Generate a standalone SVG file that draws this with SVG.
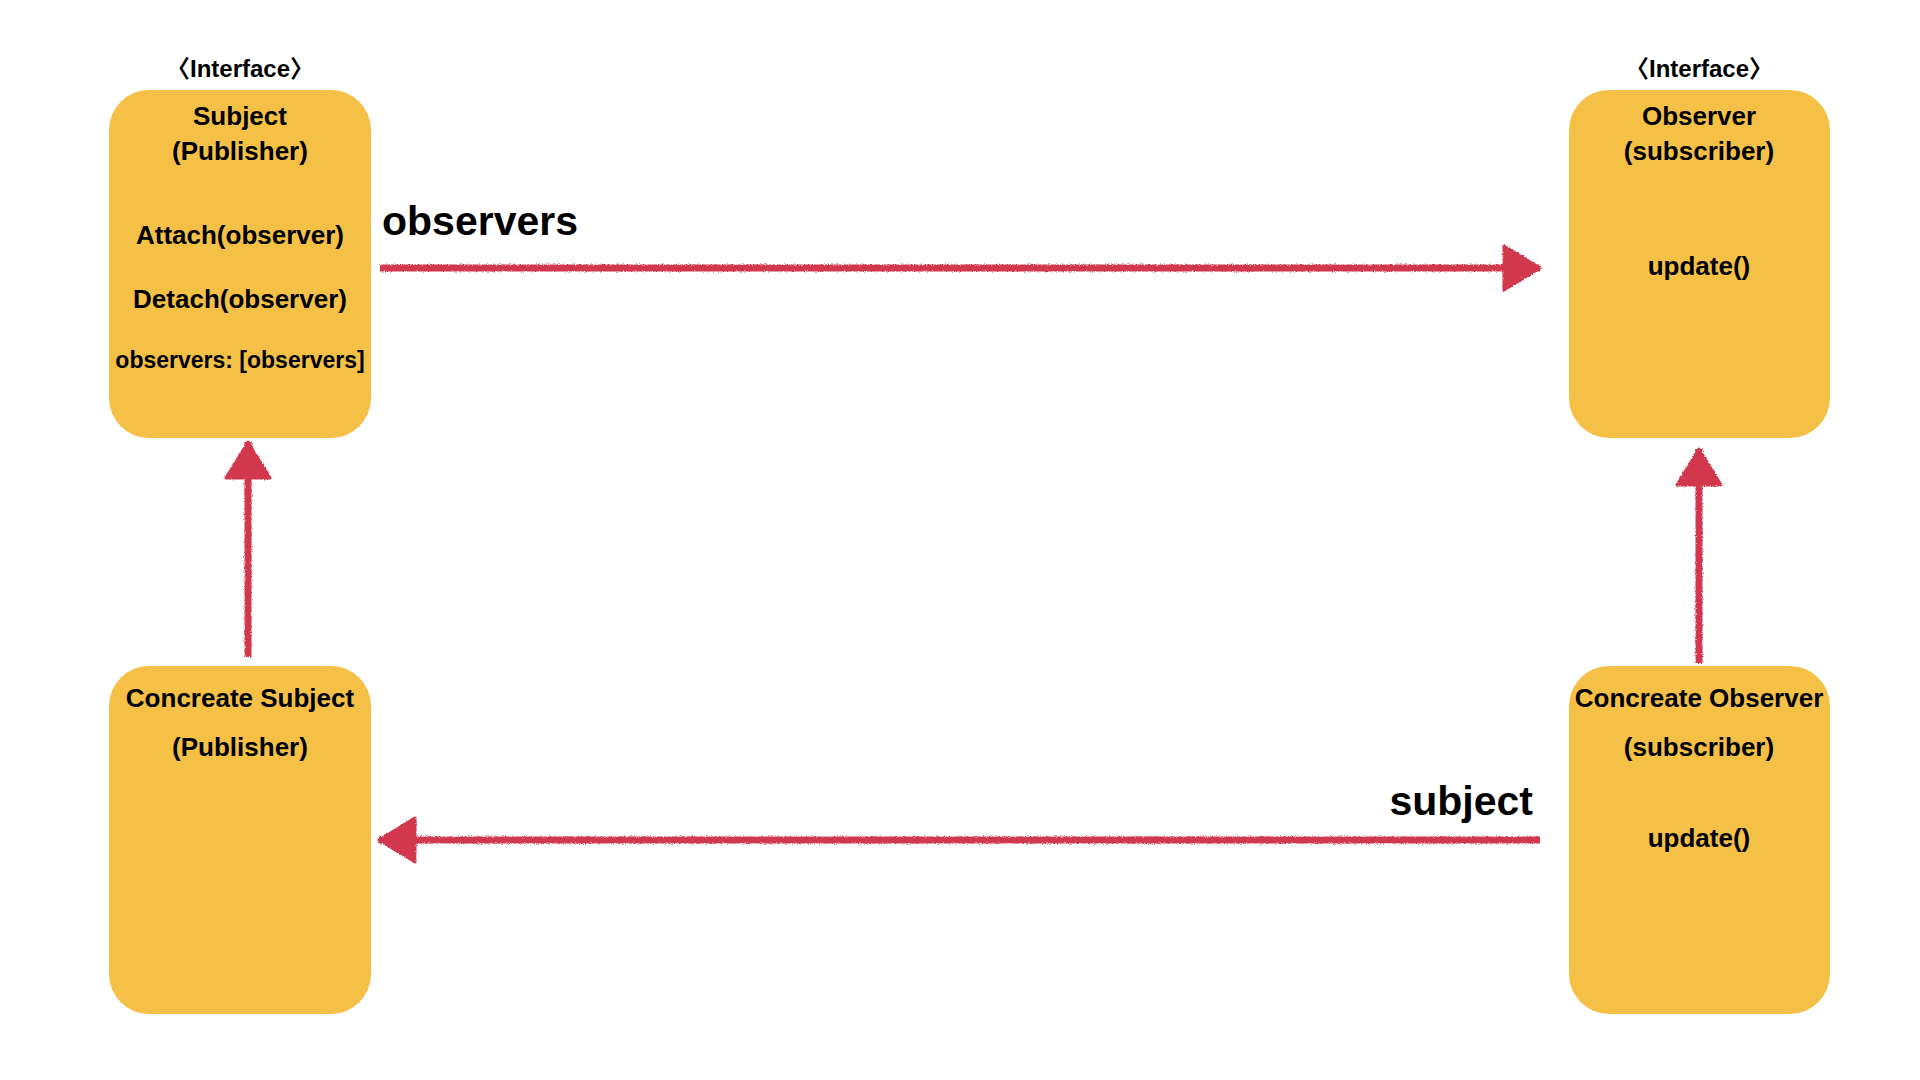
<svg xmlns="http://www.w3.org/2000/svg" width="1920" height="1080" viewBox="0 0 1920 1080">
  <style>
    .box { fill: #F4C046; }
    .t { font-family: "Liberation Sans", "Noto Sans CJK KR", Arial, sans-serif; font-weight: bold; fill: #000; text-anchor: middle; }
    .lbl { font-family: "Liberation Sans", Arial, sans-serif; font-weight: bold; fill: #000; font-size: 41px; }
    .conn { fill: none; stroke: #D1384D; stroke-width: 7; stroke-linecap: butt; }
  </style>
  <defs>
    <filter id="crayon" x="-5%" y="-50%" width="110%" height="200%">
      <feTurbulence type="fractalNoise" baseFrequency="0.9" numOctaves="2" seed="3" result="noise"/>
      <feDisplacementMap in="SourceGraphic" in2="noise" scale="3" xChannelSelector="R" yChannelSelector="G"/>
    </filter>
    <marker id="head" markerUnits="userSpaceOnUse" viewBox="0 0 40 48" markerWidth="40" markerHeight="48" refX="38" refY="24" orient="auto">
      <path d="M2,2 L38,24 L2,46 Z" fill="#D1384D" stroke="#D1384D" stroke-width="3" stroke-linejoin="round"/>
    </marker>
  </defs>
  <rect width="1920" height="1080" fill="#FFFFFF"/>

  <g id="subject">
    <text class="t" x="240" y="77" font-size="24">〈Interface〉</text>
    <rect class="box" x="109" y="90" width="262" height="348" rx="40"/>
    <text class="t" x="240" y="125" font-size="26">Subject</text>
    <text class="t" x="240" y="160" font-size="26">(Publisher)</text>
    <text class="t" x="240" y="244" font-size="26">Attach(observer)</text>
    <text class="t" x="240" y="308" font-size="26">Detach(observer)</text>
    <text class="t" x="240" y="368" font-size="23">observers: [observers]</text>
  </g>

  <g id="observer">
    <text class="t" x="1699" y="77" font-size="24">〈Interface〉</text>
    <rect class="box" x="1569" y="90" width="261" height="348" rx="40"/>
    <text class="t" x="1699" y="125" font-size="26">Observer</text>
    <text class="t" x="1699" y="160" font-size="26">(subscriber)</text>
    <text class="t" x="1699" y="275" font-size="26">update()</text>
  </g>

  <g id="concreate-subject">
    <rect class="box" x="109" y="666" width="262" height="348" rx="40"/>
    <text class="t" x="240" y="707" font-size="26">Concreate Subject</text>
    <text class="t" x="240" y="756" font-size="26">(Publisher)</text>
  </g>

  <g id="concreate-observer">
    <rect class="box" x="1569" y="666" width="261" height="348" rx="40"/>
    <text class="t" x="1699" y="707" font-size="26">Concreate Observer</text>
    <text class="t" x="1699" y="756" font-size="26">(subscriber)</text>
    <text class="t" x="1699" y="847" font-size="26">update()</text>
  </g>

  <g id="connectors" filter="url(#crayon)">
    <path class="conn" d="M380,268 L1540,268" marker-end="url(#head)"/>
    <path class="conn" d="M1540,840 L379,840" marker-end="url(#head)"/>
    <path class="conn" d="M248,657 L248,442" marker-end="url(#head)"/>
    <path class="conn" d="M1699,663 L1699,449" marker-end="url(#head)"/>
  </g>

  <g id="labels">
    <text class="lbl" x="382" y="235">observers</text>
    <text class="lbl" x="1533" y="815" text-anchor="end" font-size="40">subject</text>
  </g>
</svg>
